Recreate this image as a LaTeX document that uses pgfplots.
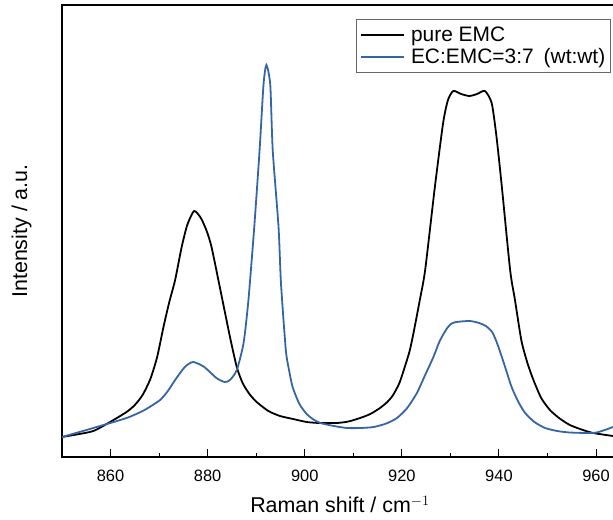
\documentclass[border=0pt]{standalone}
\usepackage{fontspec}
\setmainfont{Liberation Sans}
\usepackage{pgfplots}
\pgfplotsset{compat=1.18}
\definecolor{emcblue}{RGB}{52,101,164}
\begin{document}
\begin{tikzpicture}
\begin{axis}[
  scale only axis,
  width=555.9bp, height=452bp,
  xmin=850, xmax=964.5, ymin=0, ymax=452,
  xtick={860,880,...,960},
  minor x tick num=1,
  ytick=\empty,
  xtick pos=bottom,
  tick align=inside,
  major tick length=8bp,
  minor tick length=4bp,
  axis line style={line width=1.2pt},
  every tick/.style={black, line width=1pt},
  /pgf/number format/assume math mode=true,
  /pgf/number format/1000 sep={},
  xticklabel style={font=\fontsize{16.5}{19}\selectfont, yshift=-10bp},
  xlabel={Raman shift / cm$^{-1}$},
  ylabel={Intensity / a.u.},
  label style={font=\fontsize{21.5}{24}\selectfont},
  xlabel style={yshift=-7bp},
  ylabel style={yshift=27bp},
  legend style={at={(1,1)}, anchor=north east, xshift=-7.9bp, yshift=-14bp,
    font=\fontsize{21}{23}\selectfont, draw=black!60,
    inner xsep=3bp, inner ysep=5.5bp, row sep=1.5bp,
    nodes={inner xsep=1.5bp}, cells={anchor=west}},
  legend image code/.code={\draw[#1, line width=2pt] (0bp,0bp) -- (43bp,0bp); \path (48bp,0bp);},
]
\addplot[black, line width=1.8pt, smooth, tension=0.4] coordinates {
(850,20) (853,22.5) (856.45,26) (859.9,35) (863.3,45) (865,52) (866.6,62) (868.2,78) (869.6,100) (870.9,130)
(872.1,155) (873.3,177) (874.65,210) (875.8,232) (877.2,246) (878.6,239) (879.8,226) (880.8,210) (882.5,170)
(884.6,120) (886.0,90) (887.2,74) (888.6,63) (890.1,55) (892.5,46) (894.9,41) (897.6,38)
(900.4,35) (903,34) (906.6,34) (909,35.5) (911.4,39) (913.5,43) (915.5,49) (917,55) (918.2,62) (919.5,74) (920.6,90)
(921.6,106) (922.4,124) (923.7,157) (924.8,187) (926.8,270) (928.5,334) (929.5,357)
(930.6,366) (932.2,363) (933.9,361) (935.5,363) (937.1,366) (938.5,354)
(939.5,320) (940.6,270) (942.3,187) (943.3,157) (944.6,117) (945.8,95) (947.1,77) (948.7,59)
(950.5,47) (952.5,38.5) (954.6,32) (957,27.5) (959.4,24) (963.5,21)
};
\addlegendentry{pure EMC}
\addplot[emcblue, line width=1.8pt, smooth, tension=0.4] coordinates {
(850,20) (856.45,29) (863.3,39) (867,47) (870.2,57) (871.8,66) (873.3,77) (875.3,90) (877.0,95)
(879.3,90) (881.8,79) (883.5,75) (884.6,77) (886.0,87) (887.4,114) (888.4,157)
(889.6,230) (890.7,307) (891.5,372) (892.1,392) (892.9,372) (893.4,307)
(894.6,230) (895.1,174) (896.1,107) (896.8,86) (897.5,70) (898.9,53)
(900.4,43) (901.8,37.5) (903.2,34) (906,31) (908.7,29) (911.5,29) (914.2,30) (916.8,33.5) (919.0,39) (921.1,49) (923.1,64)
(924.8,82) (926.5,100) (927.8,116) (929.2,128) (930.1,133) (931.2,135) (934,136)
(935.9,134) (937.3,131) (938.6,125) (939.6,114) (940.6,100) (941.6,85) (942.6,70) (944,55) (945.4,44) (947.3,35) (949.5,29)
(952,26) (954.6,24.5) (959.4,24) (961.5,26.5) (963.5,30)
};
\addlegendentry{EC:EMC=3:7\hspace{10bp}(wt:wt)}
\end{axis}
\pgfresetboundingbox
\useasboundingbox (-62bp,-63bp) rectangle (551bp,457bp);
\end{tikzpicture}
\end{document}
